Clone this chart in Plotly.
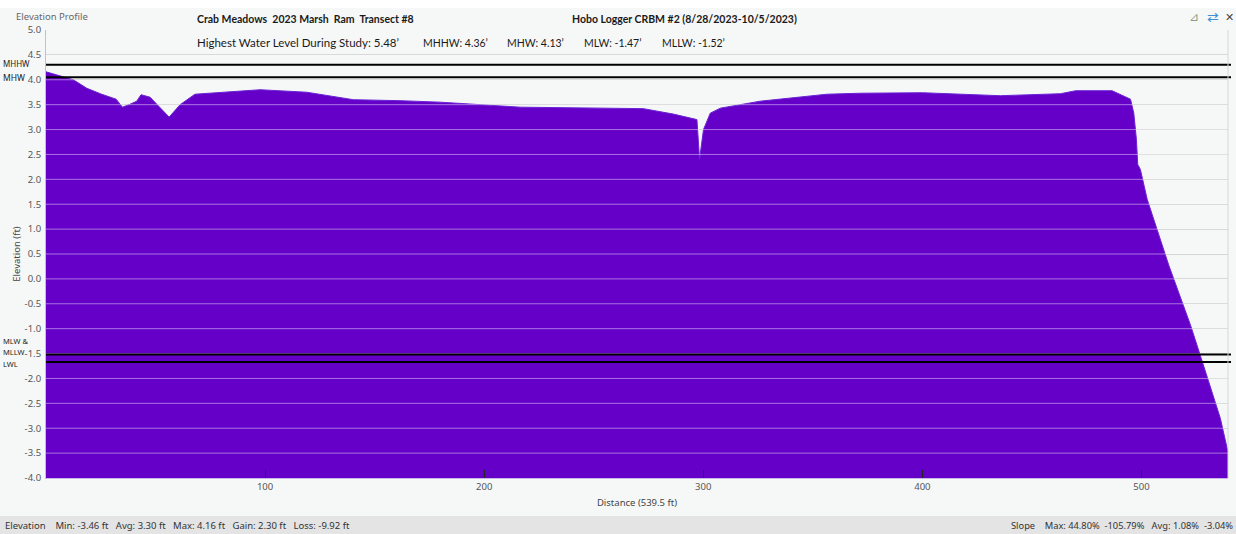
import plotly.graph_objects as go

# ---- data ----
distance_ft = [0, 12.5, 18.6, 25.4, 32, 34.9, 38.4, 41.4, 43.4, 47.5, 56.2, 61.2, 68,
               97.7, 119, 140.3, 161.6, 180, 216.4, 272.7, 286.4, 297.1, 298.3, 300.1,
               303.2, 307.8, 326, 356.5, 371.7, 400, 435.6, 463, 470, 486.6, 495,
               496.5, 497.7, 498.3, 499.5, 502.6, 512.5, 522.4, 530, 536, 539.1, 539.5]
elevation_ft = [4.16, 4.0, 3.83, 3.71, 3.61, 3.45, 3.51, 3.57, 3.70, 3.65, 3.25, 3.50, 3.71,
                3.80, 3.75, 3.60, 3.58, 3.55, 3.45, 3.42, 3.31, 3.20, 2.40, 3.0,
                3.33, 3.43, 3.57, 3.71, 3.73, 3.74, 3.68, 3.72, 3.78, 3.78, 3.61,
                3.33, 2.80, 2.30, 2.20, 1.60, 0.27, -0.93, -1.97, -2.80, -3.40, -3.46]

level_values = [4.30, 4.05, -1.52, -1.67]
y_ticks = [-4.0, -3.5, -3.0, -2.5, -2.0, -1.5, -1.0, -0.5, 0.0, 0.5, 1.0, 1.5, 2.0,
           2.5, 3.0, 3.5, 4.0, 4.5, 5.0]
y_tick_labels = [f"{t:.1f}" for t in y_ticks]
x_ticks = [100, 200, 300, 400, 500]
x_range = [0, 539.5]
y_range = [-4.0, 5.0]

# ---- layout geometry ----
W, H = 1236, 534
ML, MR, MT, MB = 46, 8, 30, 56
PW, PH = W - ML - MR, H - MT - MB


def px(x):
    return (x - ML) / PW


def py(y):
    return (H - MB - y) / PH


BG = "#f6f8f8"
FILL = "#6400c8"
UI_FONT = "Noto Sans"
TITLE_FONT = "Lato"

fig = go.Figure()
fig.add_trace(go.Scatter(x=distance_ft, y=[y_range[0]] * len(distance_ft), mode="lines",
                         line=dict(width=0), hoverinfo="skip", showlegend=False))
fig.add_trace(go.Scatter(x=distance_ft, y=elevation_ft, mode="lines", fill="tonexty",
                         fillcolor=FILL, line=dict(color="#6a22d4", width=1),
                         showlegend=False))

shapes = []
# gridlines drawn above the fill (lavender on purple)
for t in y_ticks[1:-1]:
    shapes.append(dict(type="line", xref="paper", x0=0, x1=1, yref="y", y0=t, y1=t,
                       line=dict(color="rgba(255,255,255,0.45)", width=1), layer="above"))
# water level lines
for v in level_values:
    shapes.append(dict(type="line", xref="paper", x0=0.0, x1=px(1231), yref="y", y0=v, y1=v,
                       line=dict(color="#000000", width=2), layer="above"))
# status bar
shapes.append(dict(type="rect", xref="paper", yref="paper", x0=px(0), x1=px(W),
                   y0=py(H), y1=py(516), fillcolor="#e4e4e4", line=dict(width=0),
                   layer="below"))
# top white strip
shapes.append(dict(type="rect", xref="paper", yref="paper", x0=px(0), x1=px(W),
                   y0=py(8), y1=py(0), fillcolor="#ffffff", line=dict(width=0),
                   layer="below"))
# right border of plot
shapes.append(dict(type="line", xref="paper", yref="paper", x0=1, x1=1, y0=0, y1=1,
                   line=dict(color="#d6d6d6", width=1), layer="above"))

ann = []


def text(x, y, s, size=10, color="#444", font=UI_FONT, xanchor="left", bold=False):
    if bold:
        s = "<b>" + s + "</b>"
    ann.append(dict(x=px(x), y=py(y), xref="paper", yref="paper", text=s, showarrow=False,
                    xanchor=xanchor, yanchor="middle", align="left",
                    font=dict(family=font, size=size, color=color)))


text(14, 17, "Elevation Profile", 9.5, "#666")
text(195, 19, "Crab Meadows  2023 Marsh  Ram  Transect #8", 10.5, "#1a1a1a", TITLE_FONT, bold=True)
text(570, 19, "Hobo Logger CRBM #2 (8/28/2023-10/5/2023)", 10.5, "#1a1a1a", TITLE_FONT, bold=True)
text(195, 43, "Highest Water Level During Study: 5.48’", 11.5, "#1a1a1a", TITLE_FONT)
text(421, 43, "MHHW: 4.36’", 10.5, "#1a1a1a", TITLE_FONT)
text(505, 43, "MHW: 4.13’", 10.5, "#1a1a1a", TITLE_FONT)
text(582, 43, "MLW: -1.47’", 10.5, "#1a1a1a", TITLE_FONT)
text(660, 43, "MLLW: -1.52’", 10.5, "#1a1a1a", TITLE_FONT)

text(1, 63, "MHHW", 8, "#1a1a1a")
text(1, 78, "MHW", 8.5, "#1a1a1a")
text(1, 341, "MLW &", 7.5, "#1a1a1a")
text(1, 352, "MLLW", 7.5, "#1a1a1a")
text(1, 364, "LWL", 7.5, "#1a1a1a")

text(3, 525, "Elevation    Min: -3.46 ft   Avg: 3.30 ft   Max: 4.16 ft   Gain: 2.30 ft   Loss: -9.92 ft",
     9.5, "#333")
text(1235, 525, "Slope    Max: 44.80%  -105.79%   Avg: 1.08%  -3.04%", 9.3, "#333",
     xanchor="right")

text(1213, 16, "⇄", 14, "#3d8fd6", xanchor="center")
text(1229, 16, "✕", 11, "#444", xanchor="center")
text(1194, 16, "⊿", 12, "#8aa08a", xanchor="center")

fig.update_layout(
    width=W, height=H,
    margin=dict(l=ML, r=MR, t=MT, b=MB, pad=0),
    paper_bgcolor=BG, plot_bgcolor=BG,
    shapes=shapes, annotations=ann,
    showlegend=False,
    xaxis=dict(range=x_range, tickvals=x_ticks, ticks="inside", ticklen=8, tickwidth=1,
               tickcolor="#222", showgrid=False, zeroline=False, showline=True,
               linecolor="#c8b8ea", linewidth=1, layer="above traces",
               tickfont=dict(family=UI_FONT, size=9.5, color="#555"),
               title=dict(text="Distance (539.5 ft)", standoff=6,
                          font=dict(family=UI_FONT, size=9.5, color="#444"))),
    yaxis=dict(range=y_range, tickvals=y_ticks, ticktext=y_tick_labels, ticks="",
               showgrid=True, gridcolor="#c9c9c9", gridwidth=1, zeroline=False,
               showline=True, linecolor="#c8b8ea", linewidth=1,
               tickfont=dict(family=UI_FONT, size=9.5, color="#555"),
               ticklabelstandoff=2,
               title=dict(text="Elevation (ft)", standoff=2,
                          font=dict(family=UI_FONT, size=9.5, color="#444"))),
)

fig.write_html("out.html", config={"displayModeBar": False},
               post_script="document.body.style.margin='0';document.body.style.overflow='hidden';")
